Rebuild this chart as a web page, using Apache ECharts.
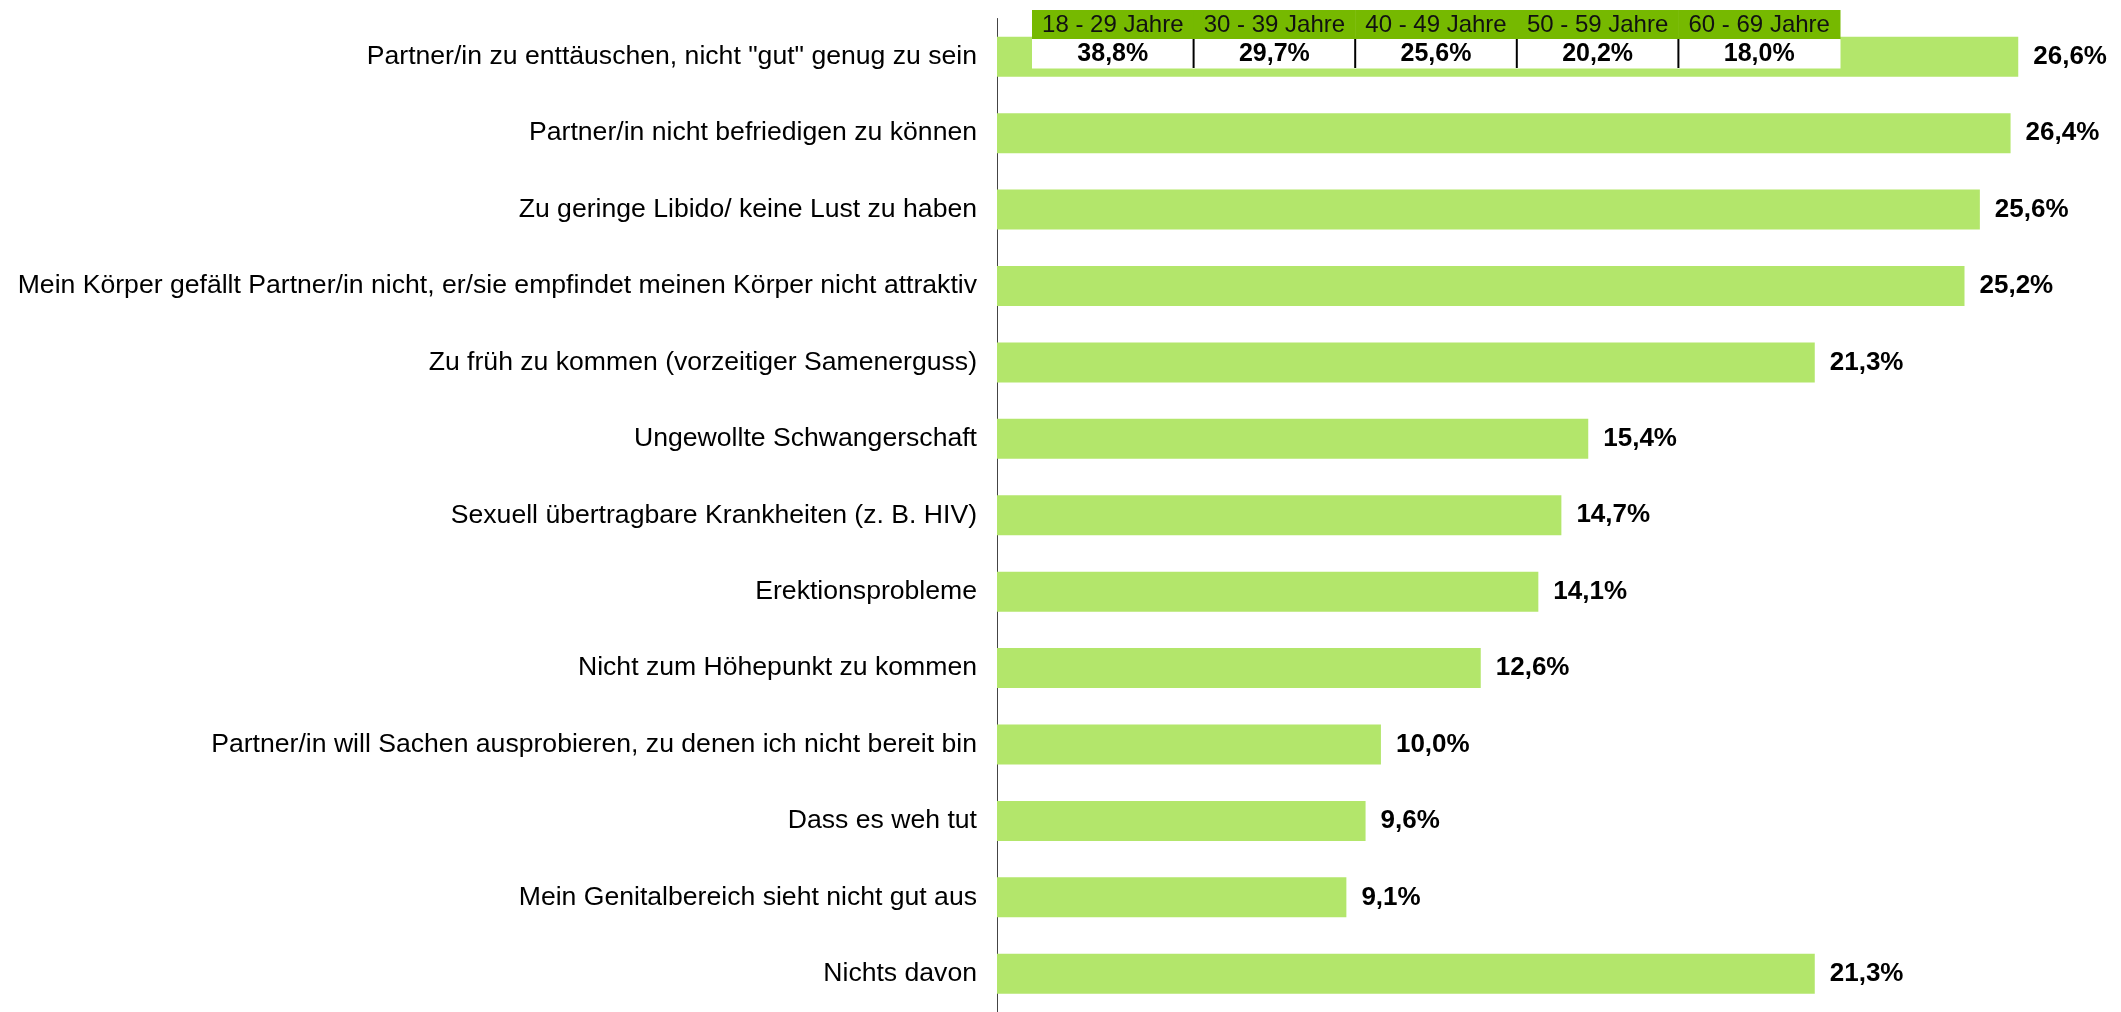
<!DOCTYPE html>
<html>
<head>
<meta charset="utf-8">
<script src="https://cdn.jsdelivr.net/npm/echarts@6/dist/echarts.min.js"></script>
<style>
html,body{margin:0;padding:0;background:#fff;}
#chart{width:2121px;height:1012px;}
</style>
</head>
<body>
<div id="chart"></div>
<script>
const categories = [
  'Partner/in zu enttäuschen, nicht "gut" genug zu sein',
  'Partner/in nicht befriedigen zu können',
  'Zu geringe Libido/ keine Lust zu haben',
  'Mein Körper gefällt Partner/in nicht, er/sie empfindet meinen Körper nicht attraktiv',
  'Zu früh zu kommen (vorzeitiger Samenerguss)',
  'Ungewollte Schwangerschaft',
  'Sexuell übertragbare Krankheiten (z. B. HIV)',
  'Erektionsprobleme',
  'Nicht zum Höhepunkt zu kommen',
  'Partner/in will Sachen ausprobieren, zu denen ich nicht bereit bin',
  'Dass es weh tut',
  'Mein Genitalbereich sieht nicht gut aus',
  'Nichts davon'
];
const values = [26.6, 26.4, 25.6, 25.2, 21.3, 15.4, 14.7, 14.1, 12.6, 10.0, 9.6, 9.1, 21.3];
const ageGroups = ['18 - 29 Jahre', '30 - 39 Jahre', '40 - 49 Jahre', '50 - 59 Jahre', '60 - 69 Jahre'];
const ageValues = [38.8, 29.7, 25.6, 20.2, 18.0];
const tableRows = ['head', 'value'];

const fmt = v => v.toFixed(1).replace('.', ',') + '%';
const FONT = '"Liberation Sans", Arial, sans-serif';

const tableData = [];
ageGroups.forEach((g, i) => {
  tableData.push({ value: [i, 0], text: g });
  tableData.push({ value: [i, 1], text: fmt(ageValues[i]) });
});

const chart = echarts.init(document.getElementById('chart'));
chart.setOption({
  backgroundColor: '#ffffff',
  animation: false,
  grid: [
    { left: 997, top: 18.5, width: 1075, height: 1000 },
    { left: 1032, top: 10, width: 808, height: 58 }
  ],
  xAxis: [
    { type: 'value', gridIndex: 0, min: 0, max: 28, show: false },
    { type: 'category', gridIndex: 1, data: ageGroups, show: false }
  ],
  yAxis: [
    {
      type: 'category', gridIndex: 0, data: categories, inverse: true,
      axisLine: { show: true, lineStyle: { color: '#444', width: 1 } },
      axisTick: { show: false },
      axisLabel: { fontSize: 26.6, color: '#000', fontFamily: FONT, margin: 20 }
    },
    { type: 'category', gridIndex: 1, data: tableRows, inverse: true, show: false }
  ],
  series: [
    {
      type: 'bar', xAxisIndex: 0, yAxisIndex: 0,
      data: values, barWidth: 40,
      itemStyle: { color: '#b3e66b' },
      label: {
        show: true, position: 'right', distance: 15,
        formatter: p => fmt(p.value),
        fontSize: 26, fontWeight: 'bold', color: '#000', fontFamily: FONT
      },
      z: 2
    },
    {
      type: 'custom', xAxisIndex: 1, yAxisIndex: 1, z: 10,
      data: tableData,
      renderItem: (params, api) => {
        const i = api.value(0), r = api.value(1);
        const c = api.coord([i, r]);
        const s = api.size([1, 1]);
        const x0 = c[0] - s[0] / 2, y0 = c[1] - s[1] / 2;
        const item = tableData[params.dataIndex];
        const children = [
          { type: 'rect', shape: { x: x0, y: y0, width: s[0] + 0.5, height: s[1] + 0.5 },
            style: { fill: r === 0 ? '#76b900' : '#ffffff' } },
          { type: 'text', style: {
              text: item.text, x: c[0], y: c[1] + 1, align: 'center', verticalAlign: 'middle',
              font: (r === 0 ? 'normal 24px ' : 'bold 25px ') + FONT,
              fill: r === 0 ? '#111' : '#000' } }
        ];
        if (r === 1 && i > 0) {
          children.push({ type: 'line', shape: { x1: x0, y1: y0, x2: x0, y2: y0 + s[1] },
            style: { stroke: '#000', lineWidth: 2 } });
        }
        return { type: 'group', children };
      }
    }
  ]
});
</script>
</body>
</html>
